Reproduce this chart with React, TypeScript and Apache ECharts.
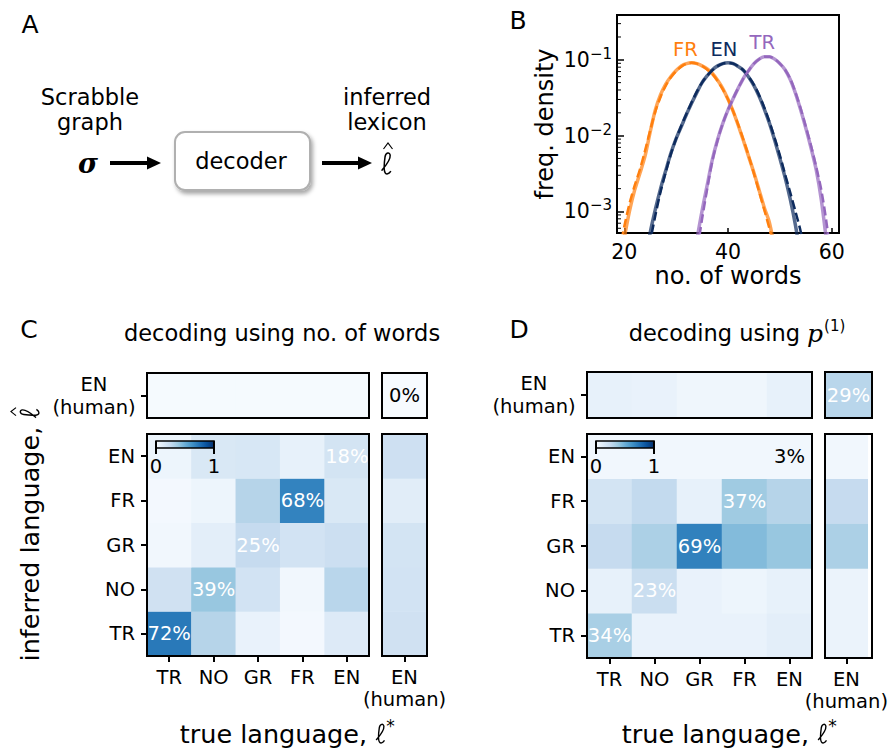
import React, { useEffect, useRef } from "react";
import * as echarts from "echarts";

const SANS = '"DejaVu Sans", "Noto Sans", sans-serif';
const SERIF = '"DejaVu Serif", serif';

// ---------- Panel B: distribution of number of words ----------
const wordsFR = [20, 21, 22, 23, 24, 25, 26, 27, 28, 29, 30, 31, 32, 33, 34, 35, 36, 37, 38, 39, 40, 41, 42, 43, 44, 45, 46, 47, 48, 49];
const densityFR = [0.000447, 0.001, 0.00191, 0.00316, 0.00537, 0.0112, 0.0219, 0.0347, 0.0479, 0.0603, 0.0724, 0.0832, 0.0891, 0.0912, 0.0891, 0.0832, 0.0759, 0.0661, 0.0537, 0.0417, 0.0302, 0.0209, 0.0135, 0.00851, 0.00525, 0.00324, 0.00191, 0.00112, 0.000708, 0.000316];
const wordsFRfit = [19, 20, 21, 22, 23, 24, 25, 26, 27, 28, 29, 30, 31, 32, 33, 34, 35, 36, 37, 38, 39, 40, 41, 42, 43, 44, 45, 46, 47, 48, 49];
const fitFR = [0.000282, 0.000631, 0.00126, 0.00219, 0.00355, 0.00631, 0.0117, 0.0209, 0.0324, 0.0457, 0.0589, 0.0708, 0.0813, 0.0891, 0.0912, 0.0891, 0.0832, 0.0741, 0.0646, 0.0525, 0.0407, 0.0302, 0.0209, 0.0138, 0.00871, 0.00537, 0.00316, 0.00182, 0.00105, 0.000589, 0.000316];

const wordsEN = [24, 25, 26, 27, 28, 29, 30, 31, 32, 33, 34, 35, 36, 37, 38, 39, 40, 41, 42, 43, 44, 45, 46, 47, 48, 49, 50, 51, 52, 53, 54];
const densityEN = [0.0002, 0.000525, 0.00107, 0.002, 0.00347, 0.00589, 0.00912, 0.0132, 0.0191, 0.0269, 0.0372, 0.0501, 0.0617, 0.0741, 0.0832, 0.0891, 0.0912, 0.0891, 0.0813, 0.0724, 0.0589, 0.0457, 0.0331, 0.0224, 0.0145, 0.0087, 0.00501, 0.00282, 0.00145, 0.00066, 0.000251];
const wordsENfit = [24, 25, 26, 27, 28, 29, 30, 31, 32, 33, 34, 35, 36, 37, 38, 39, 40, 41, 42, 43, 44, 45, 46, 47, 48, 49, 50, 51, 52, 53, 54, 55];
const fitEN = [0.00016, 0.000398, 0.00089, 0.00182, 0.00331, 0.00575, 0.00912, 0.0135, 0.0195, 0.0275, 0.038, 0.0501, 0.0617, 0.0731, 0.0825, 0.0891, 0.0912, 0.0891, 0.082, 0.0724, 0.0595, 0.0468, 0.0342, 0.0234, 0.0151, 0.0093, 0.0055, 0.0031, 0.00178, 0.001, 0.00055, 0.00025];

const wordsTR = [33, 34, 35, 36, 37, 38, 39, 40, 41, 42, 43, 44, 45, 46, 47, 48, 49, 50, 51, 52, 53, 54, 55, 56, 57, 58, 59, 60];
const densityTR = [0.000126, 0.000417, 0.00102, 0.00224, 0.0049, 0.00891, 0.0145, 0.0219, 0.0309, 0.0427, 0.0575, 0.0724, 0.0891, 0.102, 0.11, 0.11, 0.102, 0.0891, 0.0741, 0.055, 0.0363, 0.0219, 0.0126, 0.00692, 0.00355, 0.00141, 0.000398, 0.0001];
const fitTR = [0.0001, 0.000282, 0.000794, 0.002, 0.00468, 0.00871, 0.0145, 0.0219, 0.0309, 0.0427, 0.0575, 0.0724, 0.0891, 0.102, 0.11, 0.11, 0.102, 0.0891, 0.0741, 0.0562, 0.0372, 0.0229, 0.0132, 0.00741, 0.00389, 0.0019, 0.000708, 0.0002];

const curveNames = ["FR", "EN", "TR"];
const curveColors = ["#ff7f0e", "#0d2b5e", "#9467bd"];
const curveLabelX = [31.8, 39.2, 46.6];
const curveLabelY = [0.135, 0.135, 0.167];

const B_XMIN = 18.6;
const B_XMAX = 61.4;
const B_YMIN = 0.00052;
const B_YMAX = 0.39;

// ---------- Panels C & D: confusion matrices ----------
const languages = ["TR", "NO", "GR", "FR", "EN"];
const humanLabel = "EN\n(human)";

// rows: inferred TR, NO, GR, FR, EN (bottom -> top); cols: true TR, NO, GR, FR, EN
const countMain = [
  [0.72, 0.3, 0.07, 0.02, 0.13],
  [0.2, 0.39, 0.19, 0.03, 0.29],
  [0.03, 0.1, 0.25, 0.19, 0.22],
  [0.02, 0.05, 0.3, 0.68, 0.15],
  [0.05, 0.15, 0.16, 0.08, 0.18],
];
const countHumanRow = [0.01, 0.01, 0.01, 0.01, 0.01];
const countHumanCol = [0.2, 0.19, 0.18, 0.11, 0.21];
const countHumanHuman = 0.0;

const p1Main = [
  [0.34, 0.07, 0.07, 0.07, 0.1],
  [0.08, 0.23, 0.07, 0.05, 0.08],
  [0.25, 0.33, 0.69, 0.44, 0.39],
  [0.18, 0.26, 0.08, 0.37, 0.3],
  [0.03, 0.03, 0.03, 0.03, 0.03],
];
const p1HumanRow = [0.08, 0.07, 0.04, 0.04, 0.08];
const p1HumanCol = [0.06, 0.06, 0.33, 0.25, 0.03];
const p1HumanHuman = 0.29;

const colorbarTicks = ["0", "1"];
const BLUES = ["#f7fbff", "#deebf7", "#c6dbef", "#9ecae1", "#6baed6", "#4292c6", "#2171b5", "#08519c", "#08306b"];

// ---------- layout ----------
const B_GRID = { left: 617, top: 15, width: 222, height: 218 };
const C_LAYOUT = {
  main: { left: 147, top: 434, width: 222, height: 222 },
  top: { left: 147, top: 373, width: 222, height: 45 },
  right: { left: 382, top: 434, width: 45, height: 222 },
  corner: { left: 382, top: 373, width: 45, height: 45 },
};
const D_LAYOUT = {
  main: { left: 587, top: 434, width: 225, height: 224 },
  top: { left: 587, top: 372, width: 225, height: 46 },
  right: { left: 825, top: 434, width: 47, height: 224 },
  corner: { left: 825, top: 372, width: 47, height: 46 },
};

const TICK_FS = 19.5;
const TITLE_FS = 22.5;
const AXIS_FS = 25.5;

// script "ell" glyph outline (baseline-left origin, ~20 px tall)
const ELL_PATH = "M0.5 -3 C3 -6 8.6 -12 8.2 -16.6 C7.9 -19.8 4.2 -19.4 3.6 -15.2 C3 -11 2.4 -3.5 3.6 -1.2 C4.6 0.8 7.2 0 8.8 -2.6";
echarts.graphic.registerShape("ell", (echarts.graphic as any).extendPath(ELL_PATH, {}));
const ELL_W = 10;

function measure(text: string, fs: number) {
  const ctx = document.createElement("canvas").getContext("2d");
  if (!ctx) return text.length * fs * 0.6;
  ctx.font = `${fs}px "DejaVu Sans"`;
  return ctx.measureText(text).width;
}

const ell = (x: number, y: number, s: number, width = 1.4) => ({
  type: "ell", x, y, scaleX: s, scaleY: s, silent: true, z: 120,
  style: { stroke: "#000", lineWidth: width / s, fill: "none" },
});

function buildOption() {
  const grids: any[] = [];
  const xAxes: any[] = [];
  const yAxes: any[] = [];
  const series: any[] = [];
  const heatIdx: number[] = [];
  const graphic: any[] = [];

  // ----- Panel B -----
  grids.push({ ...B_GRID, show: true, borderColor: "#000", borderWidth: 2, backgroundColor: "transparent" });
  xAxes.push({
    type: "value", gridIndex: 0, min: B_XMIN, max: B_XMAX, splitNumber: 2,
    axisLine: { show: false },
    axisTick: { inside: true, length: 5, lineStyle: { color: "#000", width: 1.5 } },
    axisLabel: { fontSize: 20.5, fontFamily: SANS, color: "#000", margin: 8, showMinLabel: false, showMaxLabel: false },
    splitLine: { show: false },
    name: "no. of words", nameLocation: "middle", nameGap: 31,
    nameTextStyle: { fontSize: 24, fontFamily: SANS, color: "#000" },
  });
  yAxes.push({
    type: "log", gridIndex: 0, logBase: 10, min: B_YMIN, max: B_YMAX,
    axisLine: { show: false },
    axisTick: { inside: true, length: 7, lineStyle: { color: "#000", width: 1.5 } },
    axisLabel: {
      fontSize: 20.5, fontFamily: SANS, color: "#000", margin: 5, showMinLabel: false, showMaxLabel: false,
      formatter: (v: number) => {
        const l = Math.log10(v);
        const e = Math.round(l);
        if (Math.abs(l - e) > 1e-6) return "";
        return "10{s|" + String(e).replace("-", "−") + "}";
      },
      rich: { s: { fontSize: 15, fontFamily: SANS, color: "#000", padding: [0, 0, 12, 0] } },
    },
    splitLine: { show: false },
    name: "freq. density", nameLocation: "middle", nameGap: 60,
    nameTextStyle: { fontSize: 24, fontFamily: SANS, color: "#000" },
  });

  const obs = [
    [wordsFR, densityFR], [wordsEN, densityEN], [wordsTR, densityTR],
  ];
  const fits = [
    [wordsFRfit, fitFR], [wordsENfit, fitEN], [wordsTR, fitTR],
  ];
  obs.forEach(([xs, ys], i) => {
    series.push({
      type: "line", xAxisIndex: 0, yAxisIndex: 0, name: curveNames[i] + " data",
      data: (xs as number[]).map((x, k) => [x, (ys as number[])[k]]),
      showSymbol: false, smooth: 0.3, clip: true,
      lineStyle: { color: curveColors[i], width: 3.5, opacity: 0.7 },
      markPoint: {
        symbol: "circle", symbolSize: 1, itemStyle: { color: "transparent" },
        label: { show: true, position: "inside", formatter: curveNames[i], color: curveColors[i], fontSize: TICK_FS, fontFamily: SANS },
        data: [{ coord: [curveLabelX[i], curveLabelY[i]] }],
      },
    });
  });
  fits.forEach(([xs, ys], i) => {
    series.push({
      type: "line", xAxisIndex: 0, yAxisIndex: 0, name: curveNames[i] + " fit",
      data: (xs as number[]).map((x, k) => [x, (ys as number[])[k]]),
      showSymbol: false, smooth: 0.3, clip: true,
      lineStyle: { color: curveColors[i], width: 2.5, type: [9, 4] },
    });
  });
  // minor ticks on the log axis
  const minorTicks: number[][] = [];
  for (let e = -4; e <= 0; e++) {
    for (let k = 2; k <= 9; k++) {
      const v = k * Math.pow(10, e);
      if (v > B_YMIN && v < B_YMAX) minorTicks.push([B_XMIN, v]);
    }
  }
  series.push({
    type: "custom", xAxisIndex: 0, yAxisIndex: 0, data: minorTicks, silent: true,
    renderItem: (params: any, api: any) => {
      const p = api.coord([api.value(0), api.value(1)]);
      return { type: "line", shape: { x1: p[0], y1: p[1], x2: p[0] + 4, y2: p[1] }, style: { stroke: "#000", lineWidth: 1 } };
    },
  });

  // ----- heatmaps -----
  const addHeat = (
    rect: any, xCats: string[], yCats: string[], matrix: number[][],
    xLabels: boolean, yLabels: boolean, showLabel: (r: number, c: number) => boolean,
  ) => {
    const gi = grids.length;
    grids.push({ ...rect, show: false });
    const isHumanY = yCats.length === 1 && yCats[0] === humanLabel;
    xAxes.push({
      type: "category", gridIndex: gi, data: xCats, position: "bottom",
      axisLine: { show: false },
      axisTick: { show: xLabels, alignWithLabel: true, length: 6, lineStyle: { color: "#000", width: 2 } },
      axisLabel: { show: xLabels, fontSize: TICK_FS, fontFamily: SANS, color: "#000", margin: 10, lineHeight: 22 },
      splitLine: { show: false },
    });
    yAxes.push({
      type: "category", gridIndex: gi, data: yCats,
      axisLine: { show: false },
      axisTick: { show: yLabels, alignWithLabel: true, length: 6, lineStyle: { color: "#000", width: 2 } },
      axisLabel: isHumanY
        ? {
            show: yLabels, margin: 12,
            formatter: (v: string) => v.split("\n").map((s) => `{c|${s}}`).join("\n"),
            rich: { c: { width: 82, align: "center", fontSize: TICK_FS, fontFamily: SANS, color: "#000", lineHeight: 23 } },
          }
        : { show: yLabels, fontSize: TICK_FS, fontFamily: SANS, color: "#000", margin: 12 },
      splitLine: { show: false },
    });
    const data: any[] = [];
    matrix.forEach((row, r) =>
      row.forEach((v, c) => {
        const item: any = { value: [c, r, v] };
        if (showLabel(r, c)) {
          item.label = { show: true, formatter: `${Math.round(v * 100)}%`, color: v >= 0.1 ? "#fff" : "#000" };
        }
        data.push(item);
      }),
    );
    heatIdx.push(series.length);
    series.push({
      type: "heatmap", xAxisIndex: gi, yAxisIndex: gi, data,
      itemStyle: { borderWidth: 0 },
      label: { show: false, fontSize: TICK_FS, fontFamily: SANS },
      emphasis: { disabled: true },
    });
    graphic.push({
      type: "rect", z: 100, silent: true,
      shape: { x: rect.left, y: rect.top, width: rect.width, height: rect.height },
      style: { fill: "none", stroke: "#000", lineWidth: 2 },
    });
  };

  const addPanel = (L: any, main: number[][], hRow: number[], hCol: number[], hh: number) => {
    addHeat(L.main, languages, languages, main, true, true, (r, c) => r === c);
    addHeat(L.top, languages, [humanLabel], [hRow], false, true, () => false);
    addHeat(L.right, [humanLabel], languages, hCol.map((v) => [v]), true, false, () => false);
    addHeat(L.corner, [humanLabel], [humanLabel], [[hh]], false, false, () => true);
    // inset colorbar
    const bx = L.main.left + 9;
    const by = L.main.top + 7;
    const bw = 58;
    const bh = 7;
    graphic.push({
      type: "rect", z: 110, silent: true,
      shape: { x: bx, y: by, width: bw, height: bh },
      style: {
        fill: { type: "linear", x: 0, y: 0, x2: 1, y2: 0, colorStops: BLUES.map((c, i) => ({ offset: i / (BLUES.length - 1), color: c })) },
        stroke: "#000", lineWidth: 1.5,
      },
    });
    [0, 1].forEach((k) => {
      const tx = bx + k * bw;
      graphic.push({ type: "line", z: 111, silent: true, shape: { x1: tx, y1: by, x2: tx, y2: by + bh + 6 }, style: { stroke: "#000", lineWidth: 2 } });
      graphic.push({
        type: "text", z: 111, silent: true, x: tx, y: by + bh + 18,
        style: { text: colorbarTicks[k], fontSize: TICK_FS, fontFamily: SANS, fill: "#000", align: "center", verticalAlign: "middle" },
      });
    });
  };

  addPanel(C_LAYOUT, countMain, countHumanRow, countHumanCol, countHumanHuman);
  addPanel(D_LAYOUT, p1Main, p1HumanRow, p1HumanCol, p1HumanHuman);

  // ----- texts -----
  const txt = (text: string, x: number, y: number, fs: number, extra: any = {}, el: any = {}) => ({
    type: "text", x, y, silent: true, z: 120, ...el,
    style: { text, fontSize: fs, fontFamily: SANS, fill: "#000", align: "center", verticalAlign: "middle", ...extra },
  });
  graphic.push(txt("A", 30, 24, 25));
  graphic.push(txt("B", 518, 20, 25));
  graphic.push(txt("C", 29, 329, 25));
  graphic.push(txt("D", 519, 329, 25));

  // Panel A diagram
  graphic.push({
    type: "rect", silent: true, z: 10, shape: { x: 175, y: 132, width: 135, height: 58, r: 10 },
    style: { fill: "#fff", stroke: "#b0b0b0", lineWidth: 2, shadowBlur: 4, shadowOffsetX: 2, shadowOffsetY: 3, shadowColor: "rgba(0,0,0,0.35)" },
  });
  graphic.push(txt("Scrabble", 90, 97, TITLE_FS));
  graphic.push(txt("graph", 90, 122, TITLE_FS));
  graphic.push(txt("σ", 88, 163, 27, { fontFamily: SERIF, fontStyle: "italic", fontWeight: "bold" }));
  graphic.push(txt("decoder", 241, 161, TITLE_FS));
  graphic.push(txt("inferred", 387, 97, TITLE_FS));
  graphic.push(txt("lexicon", 387, 122, TITLE_FS));
  graphic.push(ell(381, 174, 1.12, 1.5));
  graphic.push({
    type: "polyline", silent: true, z: 120,
    shape: { points: [[383.5, 149], [388, 143], [392.5, 149]] },
    style: { stroke: "#000", lineWidth: 1.2, fill: "none" },
  });
  const arrow = (x1: number, x2: number, y: number) => {
    graphic.push({ type: "line", silent: true, shape: { x1, y1: y, x2: x2 - 12, y2: y }, style: { stroke: "#000", lineWidth: 4 } });
    graphic.push({ type: "polygon", silent: true, shape: { points: [[x2 - 14, y - 6.5], [x2, y], [x2 - 14, y + 6.5]] }, style: { fill: "#000" } });
  };
  arrow(110, 161, 163);
  arrow(322, 372, 163);

  // heatmap titles
  graphic.push(txt("decoding using no. of words", 282, 333, TITLE_FS));
  graphic.push(txt("decoding using {p|p}{s|(1)}", 737, 333, TITLE_FS, {
    rich: {
      p: { fontFamily: SERIF, fontStyle: "italic", fontSize: 25 },
      s: { fontSize: 15, fontFamily: SANS, padding: [0, 0, 14, 1] },
    },
  }));

  // x axis titles: "true language, ℓ*"
  const xBase = "true language, ";
  const wx = measure(xBase, AXIS_FS);
  const starW = 9;
  const xTitle = (cx: number, cy: number) => {
    const W = wx + ELL_W + starW;
    const x0 = cx - W / 2;
    graphic.push({
      type: "group", x: x0, y: cy, silent: true, children: [
        { type: "text", x: 0, y: 0, style: { text: xBase, fontSize: AXIS_FS, fontFamily: SANS, fill: "#000", align: "left", verticalAlign: "middle" } },
        { ...ell(wx + 0.5, 9, 1.0, 1.4) },
        { type: "text", x: wx + ELL_W + 1, y: -8, style: { text: "*", fontSize: 17, fontFamily: SANS, fill: "#000", align: "left", verticalAlign: "middle" } },
      ],
    });
  };
  xTitle(287, 734);
  xTitle(729, 734);

  // rotated y label with hat over the ell
  const yBase = "inferred language, ";
  const wy = measure(yBase, AXIS_FS);
  const Wy = wy + ELL_W;
  graphic.push({
    type: "group", x: 30, y: 535, rotation: Math.PI / 2, silent: true,
    children: [
      { type: "text", x: -Wy / 2, y: 0, style: { text: yBase, fontSize: AXIS_FS, fontFamily: SANS, fill: "#000", align: "left", verticalAlign: "middle" } },
      { ...ell(-Wy / 2 + wy + 0.5, 9, 1.0, 1.4) },
      {
        type: "polyline",
        shape: { points: [[-Wy / 2 + wy + 3, -14], [-Wy / 2 + wy + 7, -19], [-Wy / 2 + wy + 11, -14]] },
        style: { stroke: "#000", lineWidth: 1.2, fill: "none" },
      },
    ],
  });

  return {
    animation: false,
    backgroundColor: "#fff",
    grid: grids,
    xAxis: xAxes,
    yAxis: yAxes,
    visualMap: [{
      type: "continuous", show: false, min: 0, max: 1, seriesIndex: heatIdx, dimension: 2,
      inRange: { color: BLUES },
    }],
    series,
    graphic,
  };
}

export default function App() {
  const ref = useRef<HTMLDivElement>(null);
  useEffect(() => {
    if (!ref.current) return;
    const chart = echarts.init(ref.current, undefined, { renderer: "svg" });
    chart.setOption(buildOption() as any);
    return () => chart.dispose();
  }, []);
  return <div ref={ref} style={{ position: "fixed", left: 0, top: 0, width: 891, height: 749 }} />;
}
